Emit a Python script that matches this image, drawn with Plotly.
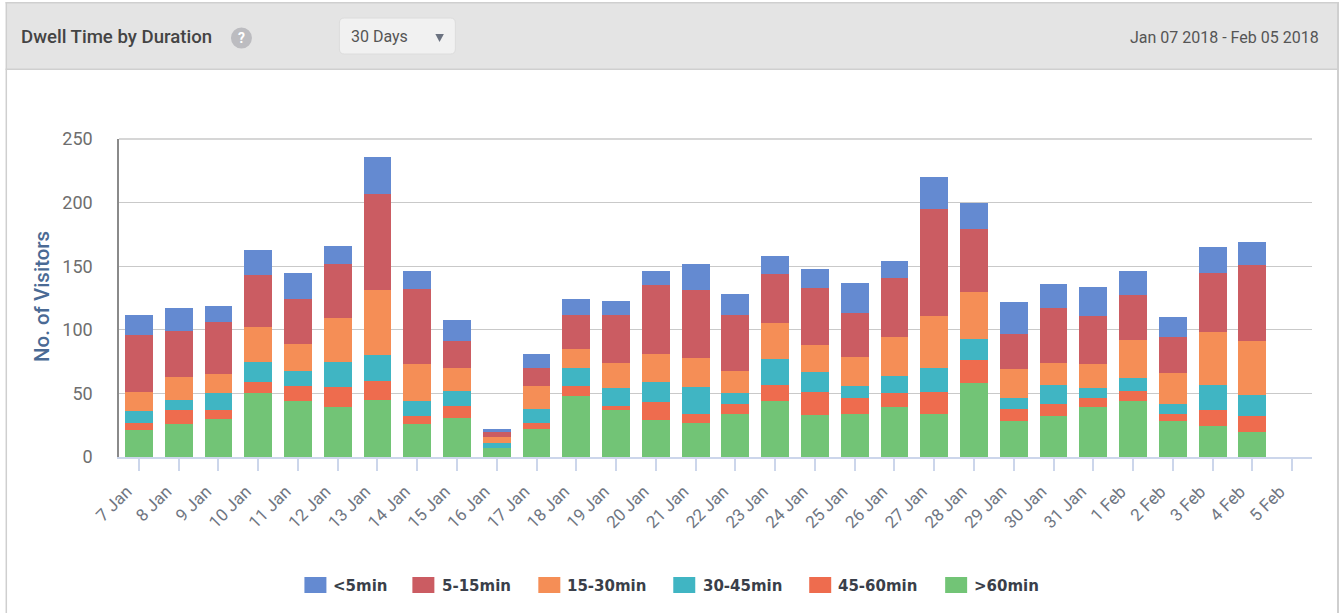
import plotly.graph_objects as go

dates = ["7 Jan","8 Jan","9 Jan","10 Jan","11 Jan","12 Jan","13 Jan","14 Jan","15 Jan","16 Jan",
         "17 Jan","18 Jan","19 Jan","20 Jan","21 Jan","22 Jan","23 Jan","24 Jan","25 Jan","26 Jan",
         "27 Jan","28 Jan","29 Jan","30 Jan","31 Jan","1 Feb","2 Feb","3 Feb","4 Feb","5 Feb"]
over_60 = [21,26,30,50,44,39,45,26,31,7,22,48,37,29,27,34,44,33,34,39,34,58,28,32,39,44,28,24,20,0]
m45_60  = [6,11,7,9,12,16,15,6,9,0,5,8,3,14,7,8,13,18,12,11,17,18,10,10,7,8,6,13,12,0]
m30_45  = [9,8,13,16,12,20,20,12,12,4,11,14,14,16,21,8,20,16,10,14,19,17,8,15,8,10,8,20,17,0]
m15_30  = [15,18,15,27,21,34,51,29,18,5,18,15,20,22,23,18,28,21,23,30,41,37,23,17,19,30,24,41,42,0]
m5_15   = [45,36,41,41,35,43,76,59,21,4,14,27,38,54,53,44,39,45,34,47,84,49,28,43,38,35,28,47,60,0]
under_5 = [16,18,13,20,21,14,29,14,17,2,11,12,11,11,21,16,14,15,24,13,25,21,25,19,23,19,16,20,18,0]

names = ["<5min","5-15min","15-30min","30-45min","45-60min",">60min"]
series = [under_5, m5_15, m15_30, m30_45, m45_60, over_60]
colors = ["#648ad1","#cb5c62","#f58e56","#40b5c3","#ee6c4e","#72c476"]
swatch_left = [304,412,538,673,809,945]
text_left = [333,442,567,703,838,974]

L, R, T, B = 118.5, 1312.0, 139.0, 457.0
W, H = 1340, 613
def px(x): return (x - L) / (R - L)
def py(y): return (B - y) / (B - T)

fig = go.Figure()
for name, vals, col in reversed(list(zip(names, series, colors))):
    fig.add_bar(x=dates, y=vals, name=name, width=0.7,
                marker=dict(color=col, line=dict(width=0)), showlegend=False)

shapes = []
def rect(x0, y0, x1, y1, fill, line=None, lw=0, **kw):
    shapes.append(dict(type="rect", xref="paper", yref="paper",
                       x0=px(x0), x1=px(x1), y0=py(y0), y1=py(y1),
                       fillcolor=fill, line=dict(color=line or fill, width=lw), layer="below", **kw))

# panel header and borders
rect(6, 3, 1338, 69, "#e4e4e4")
rect(5, 2, 1339, 3.5, "#cfcfcf")
rect(5, 68.5, 1339, 70, "#cfcfcf")
rect(5, 2, 6.5, 613, "#cfcfcf")
rect(1337, 2, 1339, 613, "#cfcfcf")
# top gridline, which the axis does not draw at the range limit
shapes.append(dict(type="line", xref="paper", yref="paper", x0=0, x1=1, y0=1, y1=1,
                   line=dict(color="#c9c9c9", width=1.3), layer="below"))
# help icon
shapes.append(dict(type="circle", xref="paper", yref="paper", x0=px(230.5), x1=px(251.5),
                   y0=py(48.5), y1=py(27.5), fillcolor="#bcbcc0", line=dict(width=0), layer="below"))
# dropdown
def rr(x0, y0, x1, y1, r):
    a, b, c, d = px(x0), px(x1), py(y0), py(y1)
    rx, ry = r / (R - L), r / (B - T)
    return (f"M{a+rx},{c} L{b-rx},{c} Q{b},{c} {b},{c-ry} L{b},{d+ry} Q{b},{d} {b-rx},{d} "
            f"L{a+rx},{d} Q{a},{d} {a},{d+ry} L{a},{c-ry} Q{a},{c} {a+rx},{c} Z")
shapes.append(dict(type="path", xref="paper", yref="paper", path=rr(339, 18, 455, 54, 5),
                   fillcolor="#f1f1f1", line=dict(color="#dcdcdc", width=1), layer="below"))
shapes.append(dict(type="path", xref="paper", yref="paper",
                   path=f"M{px(435)},{py(34)} L{px(443.5)},{py(34)} L{px(439.2)},{py(42)} Z",
                   fillcolor="#6b7280", line=dict(width=0), layer="below"))
# legend swatches
for left, col in zip(swatch_left, colors):
    rect(left, 577, left + 22, 593, col)

ann = []
def text(x, y, s, size, color, anchor="left", weight=400, family="Roboto"):
    ann.append(dict(xref="paper", yref="paper", x=px(x), y=py(y), text=s, showarrow=False,
                    xanchor=anchor, yanchor="middle", align=anchor,
                    font=dict(family=family, size=size, color=color, weight=weight),
                    borderpad=0, borderwidth=0))
text(20, 37, "Dwell Time by Duration", 18.6, "#444444", weight=500)
text(241, 38.5, "?", 14, "#ffffff", anchor="center", weight=700)
text(351, 36.5, "30 Days", 16, "#555555")
text(1319, 37, "Jan 07 2018 - Feb 05 2018", 16, "#555555", anchor="right")
for left, name in zip(text_left, names):
    text(left, 585.5, name.replace("<", "&lt;"), 15, "#3a3f4a", weight=700, family="DejaVu Sans")
ann.append(dict(xref="paper", yref="paper", x=px(41.5), y=py(297), text="No. of Visitors", textangle=-90,
                showarrow=False, xanchor="center", yanchor="middle",
                font=dict(family="Roboto", size=20.5, color="#4a6a94", weight=500)))

fig.update_layout(
    width=W, height=H, autosize=False, barmode="stack", bargap=0.3,
    margin=dict(l=L, r=W - R, t=T, b=H - B, pad=0),
    paper_bgcolor="#ffffff", plot_bgcolor="#ffffff",
    shapes=shapes, annotations=ann, showlegend=False,
    xaxis=dict(type="category", categoryorder="array", categoryarray=dates, range=[-0.5, 29.5],
               tickmode="array", tickvals=dates, ticktext=dates, tickangle=-45,
               ticks="outside", ticklen=12, tickwidth=1.5, tickcolor="#ccd6eb",
               showline=True, linecolor="#ccd6eb", linewidth=2, showgrid=False, zeroline=False,
               ticklabelshift=-12, ticklabelstandoff=4,
               tickfont=dict(family="Roboto", size=17, color="#6f7682"), automargin=False),
    yaxis=dict(range=[0, 250], tickmode="array", tickvals=[0, 50, 100, 150, 200, 250],
               showline=True, linecolor="#8a8a8a", linewidth=1.5, showgrid=True, gridcolor="#c9c9c9",
               gridwidth=1.3, zeroline=False, ticks="", ticklabelstandoff=21,
               tickfont=dict(family="Roboto", size=18, color="#6e6e6e"), automargin=False),
)
fig.write_html("out.html", post_script="document.body.style.margin='0';document.body.style.overflow='hidden';",
               config={"displayModeBar": False})
